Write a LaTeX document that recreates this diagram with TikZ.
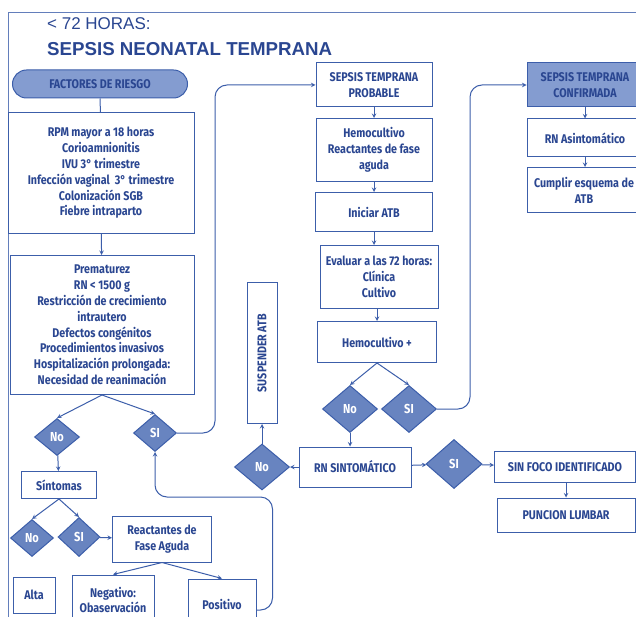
\documentclass[tikz,border=0pt]{standalone}
\usepackage{fontspec}
\setmainfont{Fira Sans}[FakeStretch=0.85]
\newfontfamily\titlefont{Liberation Sans}
\usetikzlibrary{shapes.geometric}
\definecolor{ink}{RGB}{42,70,145}
\definecolor{lineblue}{RGB}{60,94,170}
\definecolor{diamblue}{RGB}{104,132,192}
\definecolor{pillblue}{RGB}{132,156,208}
\begin{document}
\begin{tikzpicture}[x=1pt, y=-1pt,
        sz/.style 2 args={minimum width=#1, minimum height=#2},
        diam/.style={diamond, draw=lineblue, fill=diamblue, text=white, inner sep=0pt, line width=1pt}]
        \clip (0,0) rectangle (636,617);
        \fill[white] (0,0) rectangle (636,617);
        \draw[lineblue!80, line width=1pt] (8,640) -- (8,13) -- (640,13);
        % titulo
        \node[anchor=west, inner sep=0pt, text=ink, font=\titlefont\fontsize{17}{17}\selectfont] (horas) at (47,24) {< 72 HORAS:};
        \node[anchor=west, inner sep=0pt, text=ink, font=\titlefont\bfseries\fontsize{18.7}{19}\selectfont] (titulo) at (47,49) {SEPSIS NEONATAL TEMPRANA};
        \begin{scope}[every node/.style={draw=lineblue, line width=1pt, fill=white, text=ink, align=center, inner sep=1pt, font=\bfseries\fontsize{12.6}{15.8}\selectfont}]
                \node[sz={175}{28}, rounded corners=14pt, fill=pillblue] (factores) at (100,84) {FACTORES DE RIESGO};
                \node[sz={186}{121}] (riesgo1) at (101,173) {RPM mayor a 18 horas\\Corioamnionitis\\IVU 3° trimestre\\Infección vaginal~ 3° trimestre\\Colonización SGB\\Fiebre intraparto};
                \node[sz={184}{139}] (riesgo2) at (102,325) {Prematurez\\RN < 1500 g\\Restricción de crecimiento\\intrautero\\Defectos congénitos\\Procedimientos invasivos\\Hospitalización prolongada:\\Necesidad de reanimación};
                \node[sz={75}{27}] (sintomas) at (59,485) {Síntomas};
                \node[sz={99}{46}] (reactantes) at (162,539) {Reactantes de\\Fase Aguda};
                \node[sz={42}{36}] (alta) at (34,595) {Alta};
                \node[sz={82}{50}] (negativo) at (113,600) {Negativo:\\Obaservación};
                \node[sz={68}{50}] (positivo) at (222,604) {Positivo};
                \node[sz={141}{30}, rotate=90] (suspender) at (262,353) {SUSPENDER ATB};
                \node[sz={112}{40}] (rnsint) at (355,467) {RN SINTOMÁTICO};
                \node[sz={141}{31}] (sinfoco) at (565,467) {SIN FOCO IDENTIFICADO};
                \node[sz={138}{34}] (puncion) at (566,515) {PUNCION LUMBAR};
                \node[sz={116}{44}] (probable) at (374,85) {SEPSIS TEMPRANA\\PROBABLE};
                \node[sz={116}{63}] (hemo) at (374,150) {Hemocultivo\\Reactantes de fase\\aguda};
                \node[sz={117}{39}] (iniciar) at (374,212) {Iniciar ATB};
                \node[sz={118}{63}] (evaluar) at (379,277) {Evaluar a las 72 horas:\\Clínica\\Cultivo};
                \node[sz={119}{41}] (hemopos) at (377,342) {Hemocultivo +};
                \node[sz={116}{44}, fill=pillblue] (confirmada) at (585,85) {SEPSIS TEMPRANA\\CONFIRMADA};
                \node[sz={116}{38}] (rnasint) at (585,138) {RN Asintomático};
                \node[sz={114}{45}] (cumplir) at (584,190) {Cumplir esquema de\\ATB};
        \end{scope}
        \begin{scope}[every node/.style={diam, font=\bfseries\fontsize{13}{14}\selectfont}]
                \node[sz={45}{37}] (no1) at (57,437) {No};
                \node[sz={43}{37}] (si1) at (155,433) {SI};
                \node[sz={43}{37}] (no2) at (32,538) {No};
                \node[sz={42}{39}] (si2) at (79,537) {SI};
                \node[sz={55}{46}] (no3) at (262,467) {No};
                \node[sz={55}{47}] (no4) at (350,409) {No};
                \node[sz={55}{47}] (si4) at (409,409) {SI};
                \node[sz={56}{49}] (si5) at (454,464) {SI};
        \end{scope}
        \begin{scope}[>=stealth, every edge/.style={draw=lineblue, line width=1pt, ->}]
                \path (factores) edge[-] (riesgo1);
                \path (riesgo1) edge (riesgo2);
                \path (riesgo2.south) edge (no1.north);
                \path (riesgo2.south) edge (si1.north);
                \path (no1) edge (sintomas);
                \path (sintomas.south) edge (no2.north);
                \path (sintomas.south) edge (si2.north);
                \path (si2) edge (reactantes);
                \path (reactantes.south) edge (negativo.north);
                \path (reactantes.south) edge (positivo.north);
                \path (probable) edge (hemo);
                \path (hemo) edge (iniciar);
                \path (iniciar.south) edge (evaluar.north -| iniciar.south);
                \path (evaluar.south -| hemopos) edge (hemopos);
                \path (hemopos.south) edge (no4.north);
                \path (hemopos.south) edge (si4.north);
                \path (no4) edge (rnsint.north -| no4);
                \path (rnsint) edge (no3);
                \path (no3) edge (suspender);
                \path (rnsint) edge (si5);
                \path (si5) edge (sinfoco);
                \path (sinfoco.south -| puncion) edge (puncion);
                \path (confirmada) edge (rnasint);
                \path (rnasint.south) edge (rnasint.south |- cumplir.north);
        \end{scope}
        \begin{scope}[draw=lineblue, line width=1pt, ->, >=stealth, rounded corners=12pt]
                \draw (si1.east) -- ++(38,0) |- (probable.west);
                \draw (si4.east) -- ++(33,0) |- (confirmada.west);
                \draw ([yshift=-6pt]positivo.east) -- ++(16,0) -- ++(0,-113) -| (si1.south);
        \end{scope}
\end{tikzpicture}
\end{document}
